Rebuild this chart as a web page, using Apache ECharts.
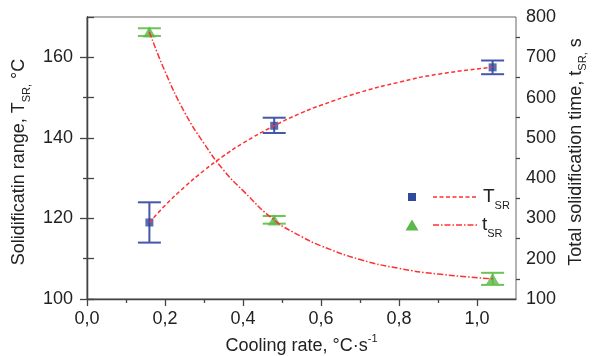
<!DOCTYPE html>
<html>
<head>
<meta charset="utf-8">
<script src="https://cdn.jsdelivr.net/npm/echarts@6/dist/echarts.min.js"></script>
<style>html,body{margin:0;padding:0;background:#fff}#c{width:597px;height:356px}</style>
</head>
<body>
<div id="c"></div>
<script>
// ---- data ----
const coolingRate = [0.16, 0.48, 1.04];
const tsrMean = [119, 143, 157.5];
const tsrLow = [114, 141.2, 155.8];
const tsrHigh = [124, 145, 159.2];
const timeMean = [763, 296, 150];
const timeLow = [753, 287, 135];
const timeHigh = [772, 306, 165];
// fitted curves
const tsrFitX = [0.16, 0.2, 0.25, 0.3, 0.35, 0.4, 0.48, 0.55, 0.6, 0.7, 0.8, 0.9, 1.04];
const tsrFitY = [119, 123.2, 127.8, 131.9, 135.5, 138.7, 143, 146.2, 148.1, 151.3, 153.8, 155.8, 157.5];
const timeFitX = [0.16, 0.2, 0.25, 0.3, 0.35, 0.4, 0.48, 0.55, 0.6, 0.7, 0.8, 0.9, 1.04];
const timeFitY = [763, 665, 564, 486, 420, 369, 296, 255, 232, 198, 176, 162, 150];
// ticks
const xMajor = [0, 0.2, 0.4, 0.6, 0.8, 1.0];
const xMinor = [0.1, 0.3, 0.5, 0.7, 0.9];
const yLeftMajor = [100, 120, 140, 160];
const yLeftMinor = [110, 130, 150];
const yRightMajor = [100, 200, 300, 400, 500, 600, 700, 800];
const yRightMinor = [150, 250, 350, 450, 550, 650, 750];

const FONT = 'Liberation Sans, Arial, sans-serif';
const AX = '#444';
const RED = '#ff3030';
const BLUE = '#2f4a9e';
const BLUE_ERR = '#4457a8';
const GREEN = '#5cb84a';
const GREEN_ERR = '#6cc453';

const zip = (a, b) => a.map((v, i) => [v, b[i]]);
const zip3 = (a, b, c) => a.map((v, i) => [v, b[i], c[i]]);

const chart = echarts.init(document.getElementById('c'), null, {renderer: 'canvas'});

function errRender(color) {
  return function (params, api) {
    const x = api.value(0), lo = api.value(1), hi = api.value(2);
    const pl = api.coord([x, lo]), ph = api.coord([x, hi]);
    const w = 11.5;
    const st = {stroke: color, lineWidth: 2};
    return {type: 'group', children: [
      {type: 'line', shape: {x1: pl[0], y1: pl[1], x2: ph[0], y2: ph[1]}, style: st},
      {type: 'line', shape: {x1: pl[0] - w, y1: pl[1], x2: pl[0] + w, y2: pl[1]}, style: st},
      {type: 'line', shape: {x1: ph[0] - w, y1: ph[1], x2: ph[0] + w, y2: ph[1]}, style: st}
    ]};
  };
}

const baseAxisLine = {show: true, lineStyle: {color: AX, width: 1.3}};
const labelStyle = {fontFamily: FONT, fontSize: 18, color: '#222'};
const fmtX = v => v.toFixed(1).replace('.', ',');
const richTitle = {
  a: {fontFamily: FONT, fontSize: 18, color: '#222', lineHeight: 22, verticalAlign: 'bottom'},
  s: {fontFamily: FONT, fontSize: 11, color: '#222', lineHeight: 22, verticalAlign: 'bottom', padding: [0, 0, -4, 0]},
  p: {fontFamily: FONT, fontSize: 11, color: '#222', lineHeight: 22, verticalAlign: 'top', padding: [0, 0, 6, 0]}
};

const option = {
  animation: false,
  backgroundColor: '#fff',
  grid: {left: 87, right: 81, top: 17, bottom: 57, show: true, borderColor: '#666', borderWidth: 1,
         containLabel: false, outerBoundsMode: 'none'},
  xAxis: [
    {type: 'value', min: 0, max: 1.1, position: 'bottom',
     axisLine: baseAxisLine,
     axisTick: {show: true, length: 7, lineStyle: {color: AX, width: 1.3}, customValues: xMajor},
     axisLabel: Object.assign({margin: 11, formatter: fmtX, customValues: xMajor}, labelStyle),
     splitLine: {show: false},
     name: '{a|Cooling rate, °C·s}{p|-1}',
     nameLocation: 'middle', nameGap: 34,
     nameTextStyle: {fontFamily: FONT, rich: richTitle}
    },
    {type: 'value', min: 0, max: 1.1, position: 'bottom',
     axisLine: {show: false},
     axisTick: {show: true, length: 4, lineStyle: {color: AX, width: 1.3}, customValues: xMinor},
     axisLabel: {show: false}, splitLine: {show: false}
    }
  ],
  yAxis: [
    {type: 'value', min: 100, max: 170, position: 'left',
     axisLine: baseAxisLine,
     axisTick: {show: true, length: 7, lineStyle: {color: AX, width: 1.3}, customValues: yLeftMajor},
     axisLabel: Object.assign({margin: 14, customValues: yLeftMajor}, labelStyle),
     splitLine: {show: false},
     name: '{a|Solidificatin range, T}{s|SR,}{a| °C}',
     nameLocation: 'middle', nameRotate: 90, nameGap: 49,
     nameTextStyle: {fontFamily: FONT, padding: [0, 8, 0, 0], rich: richTitle}
    },
    {type: 'value', min: 100, max: 800, position: 'right',
     axisLine: baseAxisLine,
     axisTick: {show: true, length: 7, lineStyle: {color: AX, width: 1.3}, customValues: yRightMajor},
     axisLabel: Object.assign({margin: 10, customValues: yRightMajor}, labelStyle),
     splitLine: {show: false},
     name: '{a|Total solidification time, t}{s|SR,}{a| s}',
     nameLocation: 'middle', nameRotate: 90, nameGap: 43,
     nameTextStyle: {fontFamily: FONT, padding: [0, 0, 0, 12], rich: richTitle}
    },
    {type: 'value', min: 100, max: 170, position: 'left',
     axisLine: {show: false},
     axisTick: {show: true, length: 4, lineStyle: {color: AX, width: 1.3}, customValues: yLeftMinor},
     axisLabel: {show: false}, splitLine: {show: false}
    },
    {type: 'value', min: 100, max: 800, position: 'right',
     axisLine: {show: false},
     axisTick: {show: true, length: 4, lineStyle: {color: AX, width: 1.3}, customValues: yRightMinor},
     axisLabel: {show: false}, splitLine: {show: false}
    }
  ],
  series: [
    {type: 'custom', name: 'TSR err', xAxisIndex: 0, yAxisIndex: 0,
     renderItem: errRender(BLUE_ERR), encode: {x: 0, y: [1, 2]},
     data: zip3(coolingRate, tsrLow, tsrHigh), z: 2},
    {type: 'custom', name: 'tSR err', xAxisIndex: 0, yAxisIndex: 1,
     renderItem: errRender(GREEN_ERR), encode: {x: 0, y: [1, 2]},
     data: zip3(coolingRate, timeLow, timeHigh), z: 2},
    {type: 'scatter', name: 'TSR', xAxisIndex: 0, yAxisIndex: 0, symbol: 'rect', symbolSize: 8,
     itemStyle: {color: BLUE}, data: zip(coolingRate, tsrMean), z: 3},
    {type: 'scatter', name: 'tSR', xAxisIndex: 0, yAxisIndex: 1, symbol: 'triangle', symbolSize: [13, 11],
     itemStyle: {color: GREEN}, data: zip(coolingRate, timeMean), z: 3},
    {type: 'line', name: 'TSR fit', xAxisIndex: 0, yAxisIndex: 0, smooth: true, showSymbol: false, symbol: 'none',
     lineStyle: {color: RED, width: 1.5, type: [4, 2.5]}, data: zip(tsrFitX, tsrFitY), z: 4},
    {type: 'line', name: 'tSR fit', xAxisIndex: 0, yAxisIndex: 1, smooth: true, showSymbol: false, symbol: 'none',
     lineStyle: {color: RED, width: 1.5, type: [6, 2, 1.5, 2]}, data: zip(timeFitX, timeFitY), z: 4}
  ],
  graphic: [
    {type: 'rect', shape: {x: 408, y: 193, width: 8, height: 8}, style: {fill: BLUE}},
    {type: 'line', shape: {x1: 433, y1: 197, x2: 477, y2: 197}, style: {stroke: RED, lineWidth: 1.5, lineDash: [4, 2.5]}},
    {type: 'text', x: 483, y: 184, style: {
      text: '{a|T}{s|SR}', rich: {
        a: {fontFamily: FONT, fontSize: 19, fill: '#222', lineHeight: 22, verticalAlign: 'bottom'},
        s: {fontFamily: FONT, fontSize: 11, fill: '#222', lineHeight: 22, verticalAlign: 'bottom', padding: [0, 0, -5, 0]}
      }}},
    {type: 'polygon', shape: {points: [[412, 219.5], [418.5, 230.5], [405.5, 230.5]]}, style: {fill: GREEN}},
    {type: 'line', shape: {x1: 433, y1: 225, x2: 477, y2: 225}, style: {stroke: RED, lineWidth: 1.5, lineDash: [6, 2, 1.5, 2]}},
    {type: 'text', x: 482, y: 212, style: {
      text: '{a|t}{s|SR}', rich: {
        a: {fontFamily: FONT, fontSize: 19, fill: '#222', lineHeight: 22, verticalAlign: 'bottom'},
        s: {fontFamily: FONT, fontSize: 11, fill: '#222', lineHeight: 22, verticalAlign: 'bottom', padding: [0, 0, -5, 0]}
      }}}
  ]
};
chart.setOption(option);
</script>
</body>
</html>
